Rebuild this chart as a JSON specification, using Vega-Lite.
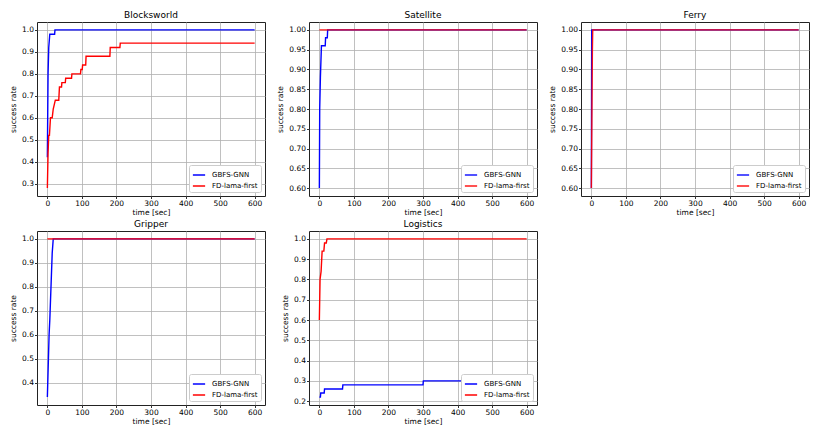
{
  "$schema": "https://vega.github.io/schema/vega-lite/v6.json",
  "padding": {"left": 9, "top": 10, "right": 5, "bottom": 5},
  "background": "white",
  "datasets": {
    "d": [
      {"p": "Blocksworld", "s": "GBFS-GNN", "t": 0, "r": 0.42},
      {"p": "Blocksworld", "s": "GBFS-GNN", "t": 2, "r": 0.8},
      {"p": "Blocksworld", "s": "GBFS-GNN", "t": 4, "r": 0.92},
      {"p": "Blocksworld", "s": "GBFS-GNN", "t": 7, "r": 0.98},
      {"p": "Blocksworld", "s": "GBFS-GNN", "t": 21, "r": 0.98},
      {"p": "Blocksworld", "s": "GBFS-GNN", "t": 22, "r": 1.0},
      {"p": "Blocksworld", "s": "GBFS-GNN", "t": 600, "r": 1.0},
      {"p": "Blocksworld", "s": "FD-lama-first", "t": 0, "r": 0.28},
      {"p": "Blocksworld", "s": "FD-lama-first", "t": 2, "r": 0.44},
      {"p": "Blocksworld", "s": "FD-lama-first", "t": 4, "r": 0.52},
      {"p": "Blocksworld", "s": "FD-lama-first", "t": 6, "r": 0.52},
      {"p": "Blocksworld", "s": "FD-lama-first", "t": 9, "r": 0.6},
      {"p": "Blocksworld", "s": "FD-lama-first", "t": 14, "r": 0.6},
      {"p": "Blocksworld", "s": "FD-lama-first", "t": 17, "r": 0.64},
      {"p": "Blocksworld", "s": "FD-lama-first", "t": 23, "r": 0.68},
      {"p": "Blocksworld", "s": "FD-lama-first", "t": 33, "r": 0.68},
      {"p": "Blocksworld", "s": "FD-lama-first", "t": 35, "r": 0.74},
      {"p": "Blocksworld", "s": "FD-lama-first", "t": 41, "r": 0.74},
      {"p": "Blocksworld", "s": "FD-lama-first", "t": 42, "r": 0.76},
      {"p": "Blocksworld", "s": "FD-lama-first", "t": 52, "r": 0.76},
      {"p": "Blocksworld", "s": "FD-lama-first", "t": 53, "r": 0.78},
      {"p": "Blocksworld", "s": "FD-lama-first", "t": 70, "r": 0.78},
      {"p": "Blocksworld", "s": "FD-lama-first", "t": 71, "r": 0.8},
      {"p": "Blocksworld", "s": "FD-lama-first", "t": 96, "r": 0.8},
      {"p": "Blocksworld", "s": "FD-lama-first", "t": 97, "r": 0.82},
      {"p": "Blocksworld", "s": "FD-lama-first", "t": 101, "r": 0.82},
      {"p": "Blocksworld", "s": "FD-lama-first", "t": 102, "r": 0.84},
      {"p": "Blocksworld", "s": "FD-lama-first", "t": 111, "r": 0.84},
      {"p": "Blocksworld", "s": "FD-lama-first", "t": 112, "r": 0.88},
      {"p": "Blocksworld", "s": "FD-lama-first", "t": 181, "r": 0.88},
      {"p": "Blocksworld", "s": "FD-lama-first", "t": 182, "r": 0.92},
      {"p": "Blocksworld", "s": "FD-lama-first", "t": 210, "r": 0.92},
      {"p": "Blocksworld", "s": "FD-lama-first", "t": 211, "r": 0.94},
      {"p": "Blocksworld", "s": "FD-lama-first", "t": 600, "r": 0.94},
      {"p": "Satellite", "s": "GBFS-GNN", "t": 0, "r": 0.6},
      {"p": "Satellite", "s": "GBFS-GNN", "t": 1, "r": 0.8},
      {"p": "Satellite", "s": "GBFS-GNN", "t": 3, "r": 0.88},
      {"p": "Satellite", "s": "GBFS-GNN", "t": 6, "r": 0.96},
      {"p": "Satellite", "s": "GBFS-GNN", "t": 17, "r": 0.96},
      {"p": "Satellite", "s": "GBFS-GNN", "t": 18, "r": 0.98},
      {"p": "Satellite", "s": "GBFS-GNN", "t": 23, "r": 0.98},
      {"p": "Satellite", "s": "GBFS-GNN", "t": 24, "r": 1.0},
      {"p": "Satellite", "s": "GBFS-GNN", "t": 600, "r": 1.0},
      {"p": "Satellite", "s": "FD-lama-first", "t": 0, "r": 1.0},
      {"p": "Satellite", "s": "FD-lama-first", "t": 600, "r": 1.0},
      {"p": "Ferry", "s": "GBFS-GNN", "t": 0, "r": 0.6},
      {"p": "Ferry", "s": "GBFS-GNN", "t": 1, "r": 1.0},
      {"p": "Ferry", "s": "GBFS-GNN", "t": 600, "r": 1.0},
      {"p": "Ferry", "s": "FD-lama-first", "t": 0, "r": 0.6},
      {"p": "Ferry", "s": "FD-lama-first", "t": 3, "r": 0.95},
      {"p": "Ferry", "s": "FD-lama-first", "t": 4, "r": 1.0},
      {"p": "Ferry", "s": "FD-lama-first", "t": 600, "r": 1.0},
      {"p": "Gripper", "s": "GBFS-GNN", "t": 0, "r": 0.34},
      {"p": "Gripper", "s": "GBFS-GNN", "t": 5, "r": 0.6},
      {"p": "Gripper", "s": "GBFS-GNN", "t": 7, "r": 0.66},
      {"p": "Gripper", "s": "GBFS-GNN", "t": 14, "r": 0.94},
      {"p": "Gripper", "s": "GBFS-GNN", "t": 17, "r": 1.0},
      {"p": "Gripper", "s": "GBFS-GNN", "t": 600, "r": 1.0},
      {"p": "Gripper", "s": "FD-lama-first", "t": 0, "r": 1.0},
      {"p": "Gripper", "s": "FD-lama-first", "t": 600, "r": 1.0},
      {"p": "Logistics", "s": "GBFS-GNN", "t": 0, "r": 0.22},
      {"p": "Logistics", "s": "GBFS-GNN", "t": 3, "r": 0.22},
      {"p": "Logistics", "s": "GBFS-GNN", "t": 4, "r": 0.24},
      {"p": "Logistics", "s": "GBFS-GNN", "t": 14, "r": 0.24},
      {"p": "Logistics", "s": "GBFS-GNN", "t": 15, "r": 0.26},
      {"p": "Logistics", "s": "GBFS-GNN", "t": 67, "r": 0.26},
      {"p": "Logistics", "s": "GBFS-GNN", "t": 68, "r": 0.28},
      {"p": "Logistics", "s": "GBFS-GNN", "t": 300, "r": 0.28},
      {"p": "Logistics", "s": "GBFS-GNN", "t": 301, "r": 0.3},
      {"p": "Logistics", "s": "GBFS-GNN", "t": 486, "r": 0.3},
      {"p": "Logistics", "s": "GBFS-GNN", "t": 487, "r": 0.32},
      {"p": "Logistics", "s": "GBFS-GNN", "t": 600, "r": 0.32},
      {"p": "Logistics", "s": "FD-lama-first", "t": 0, "r": 0.6},
      {"p": "Logistics", "s": "FD-lama-first", "t": 2, "r": 0.8},
      {"p": "Logistics", "s": "FD-lama-first", "t": 5, "r": 0.84},
      {"p": "Logistics", "s": "FD-lama-first", "t": 8, "r": 0.94},
      {"p": "Logistics", "s": "FD-lama-first", "t": 13, "r": 0.94},
      {"p": "Logistics", "s": "FD-lama-first", "t": 15, "r": 0.98},
      {"p": "Logistics", "s": "FD-lama-first", "t": 20, "r": 0.98},
      {"p": "Logistics", "s": "FD-lama-first", "t": 22, "r": 1.0},
      {"p": "Logistics", "s": "FD-lama-first", "t": 600, "r": 1.0}
    ]
  },
  "columns": 3,
  "bounds": "flush",
  "spacing": {"row": 35, "column": 44},
  "resolve": {"scale": {"color": "shared", "x": "independent", "y": "independent"}, "legend": {"color": "independent"}},
  "concat": [
    {
      "title": "Blocksworld",
      "width": 228, "height": 174,
      "data": {"name": "d"},
      "transform": [{"filter": "datum.p === 'Blocksworld'"}],
      "encoding": {
        "x": {"field": "t", "type": "quantitative", "scale": {"domain": [-30, 630], "nice": false, "zero": false}, "axis": {"values": [0, 100, 200, 300, 400, 500, 600], "title": "time [sec]"}},
        "y": {"field": "r", "type": "quantitative", "scale": {"domain": [0.244, 1.036], "nice": false, "zero": false}, "axis": {"values": [0.3, 0.4, 0.5, 0.6, 0.7, 0.8, 0.9, 1.0], "format": ".1f", "title": "success rate"}},
        "color": {"field": "s", "type": "nominal", "scale": {"domain": ["GBFS-GNN", "FD-lama-first"], "range": ["#0000ff", "#ff0000"]}, "legend": {"title": null}}
      },
      "layer": [
        {"transform": [{"filter": "datum.s === 'GBFS-GNN'"}], "mark": {"type": "line", "strokeWidth": 1.4}},
        {"transform": [{"filter": "datum.s === 'FD-lama-first'"}], "mark": {"type": "line", "strokeWidth": 1.4}}
      ]
    },
    {
      "title": "Satellite",
      "width": 228, "height": 174,
      "data": {"name": "d"},
      "transform": [{"filter": "datum.p === 'Satellite'"}],
      "encoding": {
        "x": {"field": "t", "type": "quantitative", "scale": {"domain": [-30, 630], "nice": false, "zero": false}, "axis": {"values": [0, 100, 200, 300, 400, 500, 600], "title": "time [sec]"}},
        "y": {"field": "r", "type": "quantitative", "scale": {"domain": [0.58, 1.02], "nice": false, "zero": false}, "axis": {"values": [0.6, 0.65, 0.7, 0.75, 0.8, 0.85, 0.9, 0.95, 1.0], "format": ".2f", "title": "success rate"}},
        "color": {"field": "s", "type": "nominal", "scale": {"domain": ["GBFS-GNN", "FD-lama-first"], "range": ["#0000ff", "#ff0000"]}, "legend": {"title": null}}
      },
      "layer": [
        {"transform": [{"filter": "datum.s === 'GBFS-GNN'"}], "mark": {"type": "line", "strokeWidth": 1.4}},
        {"transform": [{"filter": "datum.s === 'FD-lama-first'"}], "mark": {"type": "line", "strokeWidth": 1.4, "opacity": 0.9}}
      ]
    },
    {
      "title": "Ferry",
      "width": 228, "height": 174,
      "data": {"name": "d"},
      "transform": [{"filter": "datum.p === 'Ferry'"}],
      "encoding": {
        "x": {"field": "t", "type": "quantitative", "scale": {"domain": [-30, 630], "nice": false, "zero": false}, "axis": {"values": [0, 100, 200, 300, 400, 500, 600], "title": "time [sec]"}},
        "y": {"field": "r", "type": "quantitative", "scale": {"domain": [0.58, 1.02], "nice": false, "zero": false}, "axis": {"values": [0.6, 0.65, 0.7, 0.75, 0.8, 0.85, 0.9, 0.95, 1.0], "format": ".2f", "title": "success rate"}},
        "color": {"field": "s", "type": "nominal", "scale": {"domain": ["GBFS-GNN", "FD-lama-first"], "range": ["#0000ff", "#ff0000"]}, "legend": {"title": null}}
      },
      "layer": [
        {"transform": [{"filter": "datum.s === 'GBFS-GNN'"}], "mark": {"type": "line", "strokeWidth": 1.4}},
        {"transform": [{"filter": "datum.s === 'FD-lama-first'"}], "mark": {"type": "line", "strokeWidth": 1.4, "opacity": 0.9}}
      ]
    },
    {
      "title": "Gripper",
      "width": 228, "height": 174,
      "data": {"name": "d"},
      "transform": [{"filter": "datum.p === 'Gripper'"}],
      "encoding": {
        "x": {"field": "t", "type": "quantitative", "scale": {"domain": [-30, 630], "nice": false, "zero": false}, "axis": {"values": [0, 100, 200, 300, 400, 500, 600], "title": "time [sec]"}},
        "y": {"field": "r", "type": "quantitative", "scale": {"domain": [0.307, 1.033], "nice": false, "zero": false}, "axis": {"values": [0.4, 0.5, 0.6, 0.7, 0.8, 0.9, 1.0], "format": ".1f", "title": "success rate"}},
        "color": {"field": "s", "type": "nominal", "scale": {"domain": ["GBFS-GNN", "FD-lama-first"], "range": ["#0000ff", "#ff0000"]}, "legend": {"title": null}}
      },
      "layer": [
        {"transform": [{"filter": "datum.s === 'GBFS-GNN'"}], "mark": {"type": "line", "strokeWidth": 1.4}},
        {"transform": [{"filter": "datum.s === 'FD-lama-first'"}], "mark": {"type": "line", "strokeWidth": 1.4}}
      ]
    },
    {
      "title": "Logistics",
      "width": 228, "height": 174,
      "data": {"name": "d"},
      "transform": [{"filter": "datum.p === 'Logistics'"}],
      "encoding": {
        "x": {"field": "t", "type": "quantitative", "scale": {"domain": [-30, 630], "nice": false, "zero": false}, "axis": {"values": [0, 100, 200, 300, 400, 500, 600], "title": "time [sec]"}},
        "y": {"field": "r", "type": "quantitative", "scale": {"domain": [0.181, 1.039], "nice": false, "zero": false}, "axis": {"values": [0.2, 0.3, 0.4, 0.5, 0.6, 0.7, 0.8, 0.9, 1.0], "format": ".1f", "title": "success rate"}},
        "color": {"field": "s", "type": "nominal", "scale": {"domain": ["GBFS-GNN", "FD-lama-first"], "range": ["#0000ff", "#ff0000"]}, "legend": {"title": null}}
      },
      "layer": [
        {"transform": [{"filter": "datum.s === 'GBFS-GNN'"}], "mark": {"type": "line", "strokeWidth": 1.4}},
        {"transform": [{"filter": "datum.s === 'FD-lama-first'"}], "mark": {"type": "line", "strokeWidth": 1.4}}
      ]
    }
  ],
  "config": {
    "font": "DejaVu Sans",
    "view": {"stroke": "#222222", "strokeWidth": 1},
    "title": {"font": "DejaVu Sans", "fontSize": 9, "fontWeight": "normal", "color": "#000000", "offset": 2},
    "axis": {
      "labelFont": "DejaVu Sans", "labelFontSize": 7.5, "labelColor": "#000000",
      "titleFont": "DejaVu Sans", "titleFontSize": 7.5, "titleFontWeight": "normal", "titleColor": "#000000",
      "domain": false, "tickColor": "#000000", "tickSize": 2.5, "tickWidth": 0.8,
      "labelPadding": 1, "titlePadding": 2,
      "grid": true, "gridColor": "#b0b0b0", "gridWidth": 0.8
    },
    "axisX": {"titlePadding": 1},
    "axisY": {"titlePadding": 4},
    "legend": {
      "orient": "bottom-right", "offset": 4, "padding": 3,
      "strokeColor": "#cccccc", "fillColor": "#ffffff", "cornerRadius": 2,
      "labelFont": "DejaVu Sans", "labelFontSize": 7, "labelColor": "#000000",
      "symbolType": "stroke", "symbolSize": 150, "symbolStrokeWidth": 1.5,
      "rowPadding": 1, "labelOffset": 6
    }
  }
}
